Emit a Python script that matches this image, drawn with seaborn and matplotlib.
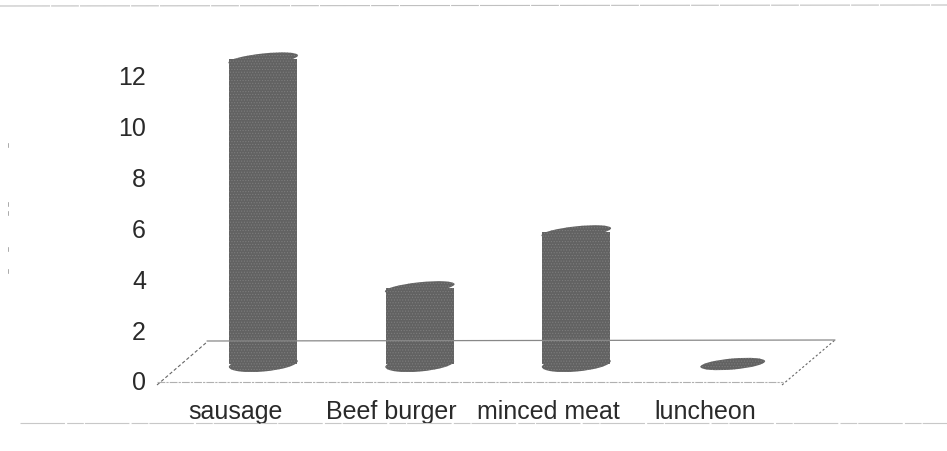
import matplotlib
matplotlib.use("Agg")
import matplotlib.pyplot as plt
from matplotlib.lines import Line2D
from matplotlib.patches import Ellipse
import pandas as pd
import seaborn as sns

products = ["sausage", "Beef burger", "minced meat", "luncheon"]
counts = [12, 3, 5.2, 0]
y_ticks = [0, 2, 4, 6, 8, 10, 12]

W, H = 947, 452
BAR_COLOR = "#626262"
SPECK = "#7d7d7d"

sns.set_theme(style="white")
plt.rcParams["font.family"] = ["Liberation Sans", "DejaVu Sans"]
plt.rcParams["hatch.linewidth"] = 0.5


def px_axes(fig, left, bottom_y, width, height):
    return fig.add_axes([left / W, 1 - bottom_y / H, width / W, height / H])


fig = plt.figure(figsize=(W / 100, H / 100), dpi=100, facecolor="white")

# front plane: carries the tick labels
ax = px_axes(fig, 157, 381, 626, 305)
ax.set_xlim(-0.5, 3.5)
ax.set_ylim(0, 12)
ax.set_yticks(y_ticks)
ax.set_xticks(range(len(products)))
ax.set_xticklabels(products)
ax.set_xticks([0.5, 1.5, 2.5], minor=True)
ax.tick_params(axis="y", length=2, width=0.6, color="#888888", pad=6,
               labelsize=18, labelcolor="#2a2a2a")
ax.tick_params(axis="x", length=0, pad=14, labelsize=18, labelcolor="#2a2a2a")
ax.tick_params(axis="x", which="minor", length=4, width=0.5, color="#aaaaaa")
sns.despine(ax=ax, left=True, bottom=True)
ax.patch.set_alpha(0)


def fig_line(xs, ys, **kw):
    fig.add_artist(Line2D([x / W for x in xs], [1 - y / H for y in ys], **kw))


# floor of the 3D box, in figure pixels
fig_line([157, 207], [386, 343], color="#666666", lw=0.8, ls=(0, (3, 2)))
fig_line([782, 835], [386, 341], color="#666666", lw=0.8, ls=(0, (2, 2)))
fig_line([207, 835], [342, 341], color="#888888", lw=0.9)
fig_line([157, 783], [383, 383], color="#b0b0b0", lw=0.8, ls=(0, (7, 1, 2, 1)))

# scan edge lines
fig_line([0, 947], [7, 6], color="#c0c0c0", lw=0.8, ls=(0, (45, 1, 25, 1)))
fig_line([20, 947], [424, 424], color="#c8c8c8", lw=0.8, ls=(0, (40, 2, 15, 1)))
for y in [146, 205, 214, 250, 272]:
    fig_line([8, 8], [y - 2, y + 2], color="#aaaaaa", lw=0.7)

# cylinders stand further back on the floor
bx = px_axes(fig, 185, 365, 626, 305)
df = pd.DataFrame({"product": products, "count": counts})
sns.barplot(
    data=df, x="product", y="count", ax=bx, order=products,
    color=BAR_COLOR, saturation=1, width=0.435, linewidth=0,
    edgecolor=SPECK, hatch="......",
)
bx.set_xlim(-0.5, 3.5)
bx.set_ylim(0, 12)
bx.axis("off")
bx.patch.set_alpha(0)

for i, v in enumerate(counts):
    x_px, y_px = bx.transData.transform((i, 0))
    top_px = bx.transData.transform((i, v))[1]
    if v > 0:
        fig.add_artist(Ellipse((x_px, y_px), 69, 15, angle=5, transform=None,
                               fc=BAR_COLOR, ec=SPECK, lw=0, hatch="......"))
        fig.add_artist(Ellipse((x_px, top_px), 70, 11, angle=6, transform=None,
                               fc=BAR_COLOR, ec=SPECK, lw=0, hatch="......"))
    else:
        fig.add_artist(Ellipse((x_px, y_px), 65, 11, angle=5, transform=None,
                               fc=BAR_COLOR, ec=SPECK, lw=0, hatch="......"))

fig.savefig("out.png", dpi=100)
